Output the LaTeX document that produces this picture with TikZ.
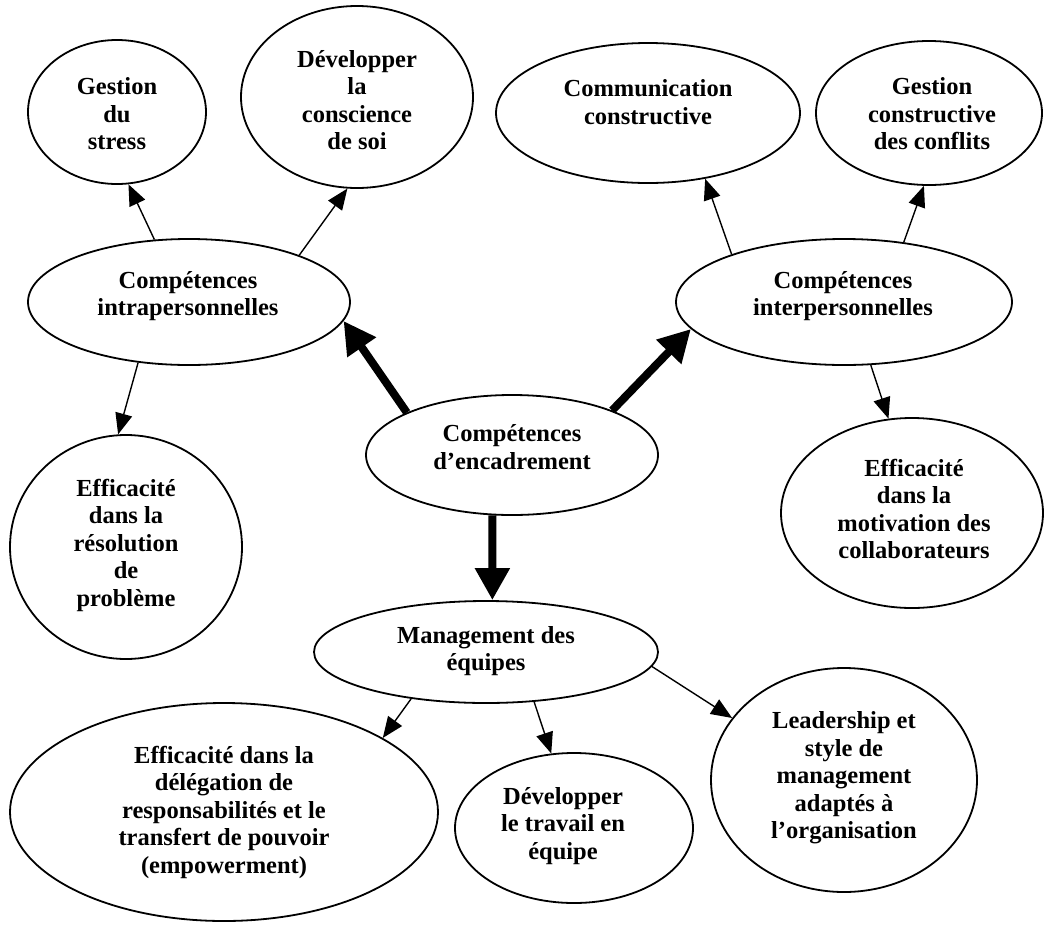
\documentclass[tikz,border=0pt]{standalone}
\usepackage{fontspec}
\setmainfont{Liberation Serif}
\usetikzlibrary{arrows.meta,shapes.geometric}
\begin{document}
\begin{tikzpicture}[x=1pt,y=-1pt,
  oval/.style={draw, ellipse, line width=1.8pt, inner sep=0pt},
  lbl/.style={align=center, font=\fontsize{24.5}{27.5}\selectfont\bfseries, inner sep=0pt},
  arrthin/.style={-{Triangle[length=21pt,width=17pt]}, line width=1.4pt},
  arrbold/.style={-{Triangle[length=32pt,width=33pt]}, line width=8pt},
]
\useasboundingbox (0,0) rectangle (1053,951);
% ellipses
\node[oval, minimum width=178pt, minimum height=144pt] (stress) at (117,112) {};
\node[oval, minimum width=232pt, minimum height=182pt] (consc) at (357,97) {};
\node[oval, minimum width=304pt, minimum height=140pt] (comm) at (648,113) {};
\node[oval, minimum width=226pt, minimum height=144pt] (confl) at (929,113) {};
\node[oval, minimum width=322pt, minimum height=126pt] (intra) at (189,302) {};
\node[oval, minimum width=336pt, minimum height=126pt] (inter) at (844,302) {};
\node[oval, minimum width=292pt, minimum height=120pt] (encadr) at (512,455) {};
\node[oval, minimum width=232pt, minimum height=224pt] (resol) at (126,547) {};
\node[oval, minimum width=262pt, minimum height=190pt] (motiv) at (912,513) {};
\node[oval, minimum width=344pt, minimum height=102pt] (mgmt) at (486,652) {};
\node[oval, minimum width=428pt, minimum height=218pt] (deleg) at (224,812) {};
\node[oval, minimum width=238pt, minimum height=150pt] (trav) at (574,828) {};
\node[oval, minimum width=266pt, minimum height=224pt] (lead) at (844,780) {};
% texts
\node[lbl] (stressT) at (117,114) {Gestion\\du\\stress};
\node[lbl] (conscT) at (357,100) {Développer\\la\\conscience\\de soi};
\node[lbl] (commT) at (648,102) {Communication\\constructive};
\node[lbl] (conflT) at (932,114) {Gestion\\constructive\\des conflits};
\node[lbl] (intraT) at (188,296) {Compétences\\intrapersonnelles};
\node[lbl] (interT) at (843,296) {Compétences\\interpersonnelles};
\node[lbl] (encadrT) at (512,447) {Compétences\\d’encadrement};
\node[lbl] (resolT) at (126,545) {Efficacité\\dans la\\résolution\\de\\problème};
\node[lbl] (motivT) at (914,509) {Efficacité\\dans la\\motivation des\\collaborateurs};
\node[lbl] (mgmtT) at (486,651) {Management des\\équipes};
\node[lbl] (delegT) at (224,812) {Efficacité dans la\\délégation de\\responsabilités et le\\transfert de pouvoir\\(empowerment)};
\node[lbl] (travT) at (563,826) {Développer\\le travail en\\équipe};
\node[lbl] (leadT) at (844,778) {Leadership et\\style de\\management\\adaptés à\\l’organisation};
% thin arrows
\draw[arrthin] (intra.119.7) -- (stress.-81.4);
\draw[arrthin] (intra.23.1) -- (consc.-96.3);
\draw[arrthin] (intra.-130.6) -- (resol.94.1);
\draw[arrthin] (inter.157.9) -- (comm.-49.1);
\draw[arrthin] (inter.45.5) -- (confl.-94.6);
\draw[arrthin] (inter.-67.9) -- (motiv.104.7);
\draw[arrthin] (mgmt.-148.7) -- (deleg.25.3);
\draw[arrthin] (mgmt.-46.8) -- (trav.107.7);
\draw[arrthin] (mgmt.-5.3) -- (lead.151.9);
% thick arrows
\draw[arrbold] (encadr.158.5) -- (intra.-7.4);
\draw[arrbold] (encadr.24.8) -- (inter.-170.8);
\draw[arrbold] (encadr.-108.4) -- (mgmt.83.4);
\end{tikzpicture}
\end{document}
